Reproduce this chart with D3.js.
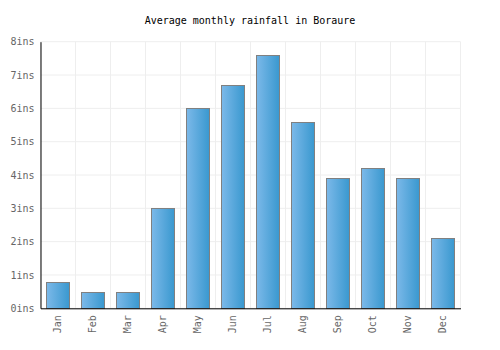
<!DOCTYPE html>
<html><head><meta charset="utf-8">
<script src="https://cdn.jsdelivr.net/npm/d3@7"></script>
<style>body{margin:0;background:#fff}svg{display:block}</style>
</head><body>
<svg id="c" width="500" height="350"></svg>
<script>
const months = ["Jan","Feb","Mar","Apr","May","Jun","Jul","Aug","Sep","Oct","Nov","Dec"];
const rainfall = [0.8,0.5,0.5,3.0,6.0,6.7,7.6,5.6,3.9,4.2,3.9,2.1];
const yTicks = [0,1,2,3,4,5,6,7,8];
const title = "Average monthly rainfall in Boraure";

const svg = d3.select("#c");
const L = 40.5, R = 460.5, T = 41.7, B = 308.3;
const font = "'DejaVu Sans Mono', monospace";
const x = d3.scaleBand().domain(months).range([L, R]).paddingInner(0.33).paddingOuter(0.165);
const xg = d3.scaleBand().domain(months).range([L, R]);
const y = d3.scaleLinear().domain([0, 8]).range([B, T]);

const defs = svg.append("defs");
const g = defs.append("linearGradient").attr("id","bg").attr("x1","0").attr("x2","1").attr("y1","0").attr("y2","0");
g.append("stop").attr("offset","0").attr("stop-color","#7cb9e9");
g.append("stop").attr("offset","1").attr("stop-color","#3998cf");

// grid
svg.append("g").selectAll("line").data(yTicks).join("line")
  .attr("x1", L).attr("x2", R).attr("y1", d => y(d)).attr("y2", d => y(d))
  .attr("stroke", "#eeeeee").attr("stroke-width", 1);
svg.append("g").selectAll("line").data(months.map(m => xg(m)).concat([R])).join("line")
  .attr("x1", d => d).attr("x2", d => d).attr("y1", T).attr("y2", B)
  .attr("stroke", "#eeeeee").attr("stroke-width", 1);

// bars
svg.append("g").selectAll("rect").data(rainfall).join("rect")
  .attr("x", (d,i) => Math.round(x(months[i])) + 0.5)
  .attr("y", d => Math.round(y(d)) + 0.5)
  .attr("width", Math.round(x.bandwidth()))
  .attr("height", d => Math.round(B) - Math.round(y(d)))
  .attr("fill", "url(#bg)").attr("stroke", "#808080").attr("stroke-width", 1);

// axes
const ya = svg.append("g").attr("transform", `translate(${L},0)`)
  .call(d3.axisLeft(y).tickValues(yTicks).tickFormat(d => d + "ins").tickSize(0).tickPadding(6));
ya.select(".domain").attr("stroke", "#000");
ya.selectAll("text").attr("font-family", font).attr("font-size", 10).attr("fill", "#666");

const xa = svg.append("g").attr("transform", `translate(0,${B})`)
  .call(d3.axisBottom(xg).tickSize(0).tickPadding(6));
xa.select(".domain").attr("stroke", "#000");
xa.selectAll("text").attr("font-family", font).attr("font-size", 10).attr("fill", "#666")
  .attr("transform", "rotate(-90)").attr("text-anchor", "end").attr("dx", "0").attr("dy", "0.32em").attr("y", 0).attr("x", -7);

svg.append("text").attr("x", 250).attr("y", 24).attr("text-anchor", "middle")
  .attr("font-family", font).attr("font-size", 10).attr("fill", "#000").text(title);
</script>
</body></html>
